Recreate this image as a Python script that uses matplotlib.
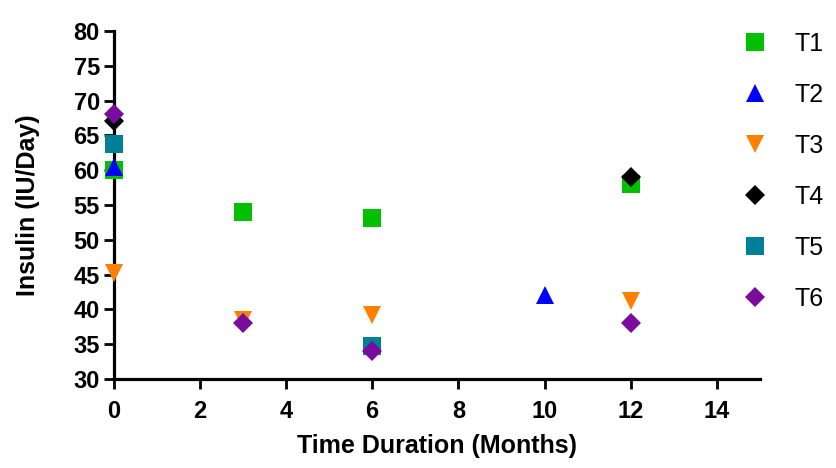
import matplotlib
matplotlib.use("Agg")
from matplotlib import pyplot as plt

plt.rcParams['font.family'] = ['Liberation Sans', 'DejaVu Sans']

# readings, month -> insulin (IU/Day)
t1_x = [0, 3, 6, 12]
t1_y = [60, 54, 53.1, 58]
t2_x = [0, 10]
t2_y = [60.5, 42.1]
t3_x = [0, 3, 6, 12]
t3_y = [45.3, 38.5, 39.2, 41.2]
t4_x = [0, 12]
t4_y = [67, 59]
t5_x = [0, 6]
t5_y = [63.8, 34.7]
t6_x = [0, 3, 6, 12]
t6_y = [68.1, 38, 34.1, 38]

series = [
	("T1", t1_x, t1_y, "s", "#00c000", 12.5),
	("T2", t2_x, t2_y, "^", "#0000ff", 12.5),
	("T3", t3_x, t3_y, "v", "#ff8000", 12.5),
	("T4", t4_x, t4_y, "D", "#000000", 10.5),
	("T5", t5_x, t5_y, "s", "#007f99", 12.5),
	("T6", t6_x, t6_y, "D", "#7b0a9e", 10.5),
]

fig = plt.figure(figsize=(8.36, 4.68), dpi=100)
ax = fig.add_axes([0.136, 0.19, 0.773, 0.744])

for name, x, y, m, c, ms in series:
	ax.plot(x, y, linestyle="none", marker=m, color=c, markersize=ms,
			markeredgewidth=0, label=name, clip_on=False, zorder=3)

ax.set_xlim(0, 15)
ax.set_ylim(30, 80)
ax.set_xticks(range(0, 15, 2))
ax.set_yticks(range(30, 81, 5))

for s in ["top", "right"]:
	ax.spines[s].set_visible(False)
for s in ["left", "bottom"]:
	ax.spines[s].set_linewidth(2.3)

ax.tick_params(direction="out", length=7, width=2, labelsize=17, pad=3)
ax.tick_params(axis="x", pad=8)
for lab in ax.get_xticklabels() + ax.get_yticklabels():
	lab.set_fontweight("bold")

ax.set_xlabel("Time Duration (Months)", fontsize=18, fontweight="bold", labelpad=8)
ax.set_ylabel("Insulin (IU/Day)", fontsize=18, fontweight="bold", labelpad=24)

ax.legend(loc="upper left", bbox_to_anchor=(0.876, 0.953),
		  bbox_transform=fig.transFigure, borderaxespad=0, frameon=False,
		  fontsize=18, labelspacing=1.08, handlelength=1.0, handletextpad=1.1,
		  markerscale=1.0)

fig.savefig("out.png", dpi=100)
